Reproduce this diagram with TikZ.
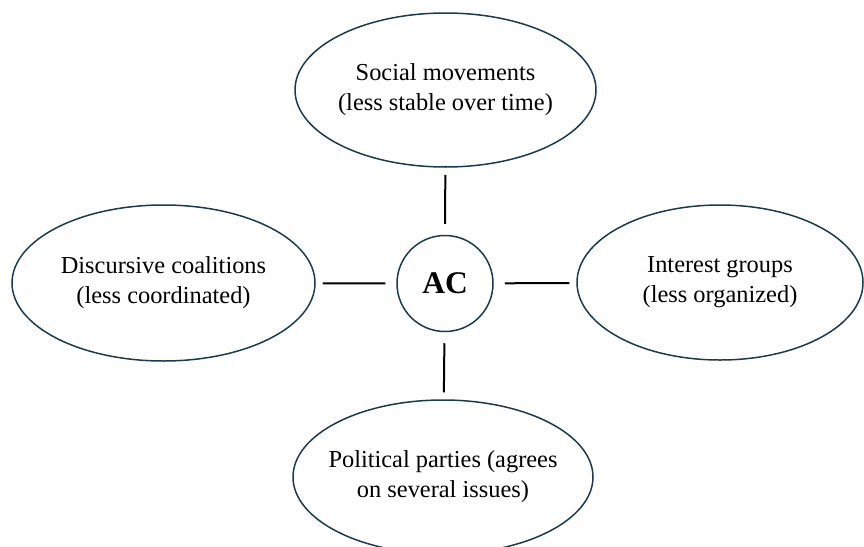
\documentclass[tikz,border=0pt]{standalone}
\usepackage{fontspec}
\setmainfont{Liberation Serif}
\usetikzlibrary{shapes.geometric}
\definecolor{bordo}{RGB}{27,58,78}
\tikzset{
  gruppo/.style={ellipse, draw=bordo, line width=1.5pt, inner xsep=-12pt, inner ysep=0pt, align=center, font=\fontsize{24.4}{30}\selectfont},
  centro/.style={circle, draw=bordo, line width=1.5pt, minimum size=96pt, inner sep=0pt, font=\fontsize{31.5}{31.5}\selectfont\bfseries},
  legame/.style={line width=2pt, shorten <=11pt, shorten >=7pt}
}
\begin{document}
\begin{tikzpicture}[x=1pt,y=-1pt]
            \useasboundingbox (0,0) rectangle (864,546);
            %ellissi
            \node[gruppo, minimum width=301pt, minimum height=154pt] (sociali) at (445.5,90) {Social movements\\(less stable over time)};
            \node[gruppo, minimum width=303pt, minimum height=156pt] (discorsive) at (163.5,283) {Discursive coalitions\\(less coordinated)};
            \node[gruppo, minimum width=286pt, minimum height=155pt] (interessi) at (720,282.5) {Interest groups\\(less organized)};
            \node[gruppo, minimum width=300pt, minimum height=154pt] (partiti) at (443,477) {Political parties (agrees\\on several issues)};
            %centro
            \node[centro] (ac) at (445,283.5) {AC};
            %collegamenti
            \draw[legame] (ac) -- (sociali);
            \draw[legame] (ac) -- (discorsive);
            \draw[legame] (ac) -- (interessi);
            \draw[legame] (ac) -- (partiti);
\end{tikzpicture}
\end{document}
